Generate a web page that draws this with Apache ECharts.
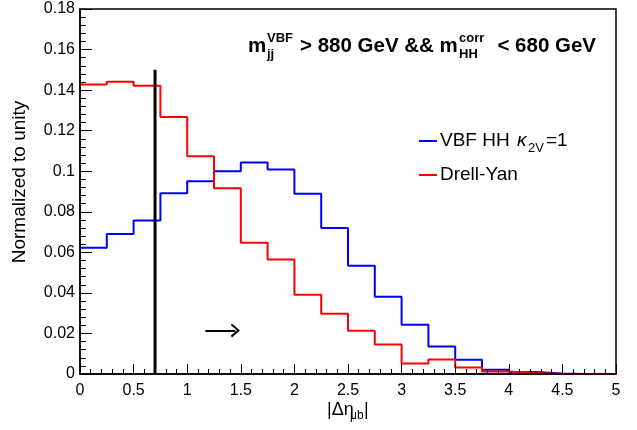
<!DOCTYPE html>
<html>
<head>
<meta charset="utf-8">
<script src="https://cdn.jsdelivr.net/npm/echarts@6/dist/echarts.min.js"></script>
<style>
  html, body { margin: 0; padding: 0; background: #fff; }
  #chart { width: 637px; height: 430px; }
</style>
</head>
<body>
<div id="chart"></div>
<script>
// bin edges of |d eta(mu,b)|, 20 bins of 0.25
const binEdges = [0, 0.25, 0.5, 0.75, 1, 1.25, 1.5, 1.75, 2, 2.25, 2.5, 2.75, 3, 3.25, 3.5, 3.75, 4, 4.25, 4.5, 4.75, 5]
// VBF HH k2V=1, normalized
const vbfValues = [0.0622, 0.0691, 0.0757, 0.0891, 0.0951, 0.1000, 0.1043, 0.1009, 0.0889, 0.0720,
  0.0534, 0.0381, 0.0243, 0.0136, 0.0070, 0.0021, 0.0010, 0.0003, 0, 0]
// Drell-Yan, normalized
const dyValues = [0.1428, 0.1441, 0.1422, 0.1267, 0.1074, 0.0916, 0.0647, 0.0565, 0.0391, 0.0297,
  0.0213, 0.0146, 0.0052, 0.0072, 0.0032, 0.0012, 0.0005, 0, 0, 0]
// cut line and arrow
const cutLine = [[0.7, 0], [0.7, 0.15]]
const arrowLine = [[1.17, 0.0215], [1.45, 0.0215]]

const FONT = 'Liberation Sans'

// histogram -> step points (lo,v),(hi,v)
const toSteps = (vals) => {
  const pts = []
  vals.forEach((v, i) => {
    pts.push([binEdges[i], v])
    pts.push([binEdges[i + 1], v])
  })
  return pts
}

const chart = echarts.init(document.getElementById('chart'))

const txt = (x, y, text, size, extra) => Object.assign({
  type: 'text', x: x, y: y, z: 50,
  style: Object.assign({
    text: text, fontFamily: FONT, fontSize: size, fill: '#000',
    align: 'left', verticalAlign: 'middle'
  }, extra || {})
})

const option = {
  animation: false,
  grid: {
    left: 80, right: 21, top: 9, bottom: 56,
    show: true, borderColor: '#000', borderWidth: 1.5
  },
  xAxis: {
    type: 'value', min: 0, max: 5, interval: 0.5, z: 5,
    axisLine: { lineStyle: { color: '#000', width: 1.5 } },
    axisTick: { inside: true, length: 10, lineStyle: { color: '#000' } },
    minorTick: { show: true, splitNumber: 5, length: 5, lineStyle: { color: '#000' } },
    splitLine: { show: false },
    axisLabel: { color: '#000', fontFamily: FONT, fontSize: 16, margin: 9 }
  },
  yAxis: {
    type: 'value', min: 0, max: 0.18, interval: 0.02, z: 5,
    axisLine: { lineStyle: { color: '#000', width: 1.5 } },
    axisTick: { inside: true, length: 12, lineStyle: { color: '#000' } },
    minorTick: { show: true, splitNumber: 5, length: 6, lineStyle: { color: '#000' } },
    splitLine: { show: false },
    axisLabel: { color: '#000', fontFamily: FONT, fontSize: 16, margin: 5 }
  },
  series: [
    {
      name: 'VBF HH', type: 'line', data: toSteps(vbfValues), showSymbol: false, z: 2,
      lineStyle: { color: '#0000ff', width: 2 }
    },
    {
      name: 'Drell-Yan', type: 'line', data: toSteps(dyValues), showSymbol: false, z: 2,
      lineStyle: { color: '#ff0000', width: 2 }
    },
    {
      // cut at 0.7
      type: 'line', data: cutLine, showSymbol: false, z: 3,
      lineStyle: { color: '#000', width: 3 }
    },
    {
      // arrow, drawn as markLine so it gets a head
      type: 'line', data: [], z: 3,
      markLine: {
        silent: true, animation: false,
        symbol: ['none', 'path://M0,9 L6,0 L12,9 L10.4,10 L6,3.2 L1.6,10 Z'],
        symbolSize: [14, 9],
        label: { show: false },
        lineStyle: { color: '#000', width: 2, type: 'solid' },
        data: [[{ coord: arrowLine[0] }, { coord: arrowLine[1] }]]
      }
    }
  ],
  graphic: [
    // title
    txt(248, 46, 'm', 20.5, { fontWeight: 'bold' }),
    txt(267, 38, 'VBF', 13, { fontWeight: 'bold' }),
    txt(267, 54, 'jj', 13, { fontWeight: 'bold' }),
    txt(300, 46, '> 880 GeV && m', 20.5, { fontWeight: 'bold' }),
    txt(459, 38, 'corr', 13, { fontWeight: 'bold' }),
    txt(459, 54, 'HH', 13, { fontWeight: 'bold' }),
    txt(596, 46, '< 680 GeV', 20.5, { fontWeight: 'bold', align: 'right' }),
    // legend
    { type: 'line', z: 50, shape: { x1: 419, y1: 141, x2: 437, y2: 141 }, style: { stroke: '#0000ff', lineWidth: 2 } },
    txt(440, 141, 'VBF HH', 19),
    txt(517, 141, 'κ', 19, { fontStyle: 'italic' }),
    txt(528, 148, '2V', 13),
    txt(546, 141, '=1', 19),
    { type: 'line', z: 50, shape: { x1: 419, y1: 175, x2: 437, y2: 175 }, style: { stroke: '#ff0000', lineWidth: 2 } },
    txt(440, 175, 'Drell-Yan', 19),
    // axis titles
    txt(327, 410, '|Δη', 18),
    txt(350, 416, 'μb', 12),
    txt(364, 410, '|', 18),
    Object.assign(txt(20, 182, 'Normalized to unity', 19, { align: 'center' }), { rotation: Math.PI / 2 })
  ]
}

chart.setOption(option)
</script>
</body>
</html>
